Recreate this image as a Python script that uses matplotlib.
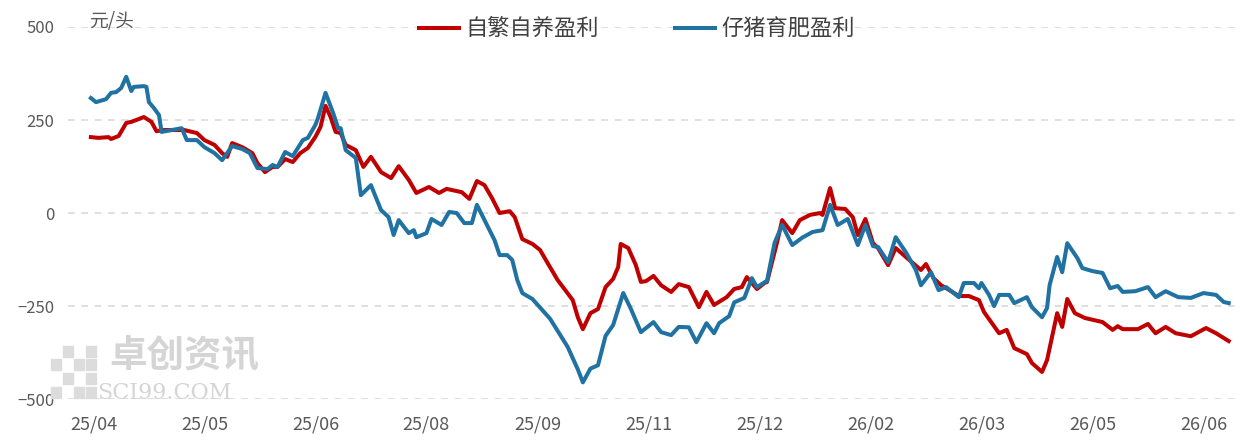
import matplotlib.pyplot as plt
from matplotlib.patches import Rectangle

plt.rcParams['font.family'] = ['Noto Sans CJK SC', 'DejaVu Sans']

# 横轴: 自 2025-04 起的天数
tick_days = [1, 45, 89, 133, 177, 221, 265, 309, 353, 397, 441]
tick_labels = ['25/04', '25/05', '25/06', '25/08', '25/09', '25/11',
               '25/12', '26/02', '26/03', '26/05', '26/06']

# 自繁自养盈利
self_days = [0, 3, 7, 8, 11, 14, 16, 18, 21, 24, 26, 29, 37, 42, 45, 49, 52, 54, 56, 60,
             64, 66, 69, 72, 74, 77, 80, 83, 86, 89, 91, 93, 95, 97, 99, 101, 105, 108, 111, 115,
             119, 122, 126, 129, 134, 138, 141, 145, 147, 150, 153, 156, 159, 162, 166, 168, 171, 175, 178, 181,
             185, 191, 193, 195, 198, 201, 204, 207, 209, 210, 213, 216, 218, 220, 223, 226, 230, 233, 237, 241,
             244, 247, 252, 255, 258, 260, 264, 267, 268, 272, 274, 278, 281, 285, 289, 290, 293, 295, 299, 302,
             304, 307, 310, 312, 316, 319, 323, 329, 331, 334, 337, 341, 344, 348, 352, 354, 360, 363, 366, 371,
             373, 377, 379, 383, 385, 387, 390, 394, 401, 405, 407, 409, 415, 419, 422, 426, 430, 436, 442, 446,
             451]
self_profit = [204, 202, 204, 199, 207, 242, 245, 250, 258, 245, 220, 223, 223, 215, 196, 183, 161, 151, 188, 177,
               161, 134, 110, 124, 124, 145, 137, 161, 175, 205, 231, 288, 258, 218, 215, 183, 169, 124, 151, 110,
               94, 126, 89, 54, 70, 54, 65, 59, 56, 38, 86, 75, 40, 0, 5, -11, -70, -83, -99, -134,
               -180, -234, -280, -312, -269, -258, -199, -177, -145, -83, -94, -140, -185, -183, -169, -194, -212, -191, -199, -253,
               -212, -247, -226, -204, -199, -172, -204, -188, -185, -78, -19, -54, -19, -5, 0, -5, 67, 13, 11, -11,
               -59, -16, -81, -94, -140, -94, -118, -153, -137, -175, -194, -210, -223, -223, -234, -266, -323, -314, -363, -379,
               -403, -427, -395, -269, -306, -231, -269, -282, -293, -314, -304, -312, -312, -298, -323, -306, -323, -331, -309, -323,
               -344]

# 仔猪育肥盈利
fat_days = [0, 2, 6, 8, 10, 12, 14, 16, 17, 21, 22, 23, 25, 27, 28, 32, 36, 38, 42, 45,
            49, 52, 56, 60, 63, 66, 70, 72, 74, 77, 80, 84, 86, 89, 90, 93, 96, 98, 99, 101,
            105, 107, 111, 115, 118, 120, 122, 126, 128, 129, 133, 135, 139, 142, 145, 148, 151, 153, 156, 160,
            162, 165, 167, 169, 171, 175, 182, 189, 193, 195, 198, 201, 204, 207, 211, 214, 218, 223, 226, 230,
            233, 237, 240, 244, 247, 249, 253, 255, 259, 262, 264, 268, 271, 274, 278, 282, 286, 290, 293, 296,
            300, 304, 307, 310, 312, 316, 319, 323, 327, 329, 333, 336, 339, 344, 346, 350, 352, 353, 356, 358,
            360, 364, 366, 371, 373, 377, 379, 380, 383, 385, 387, 391, 393, 397, 401, 404, 407, 409, 414, 419,
            422, 426, 431, 436, 441, 446, 449, 451]
fat_profit = [309, 298, 306, 323, 325, 336, 366, 328, 339, 341, 339, 298, 282, 263, 218, 223, 228, 196, 196, 177,
              161, 142, 180, 172, 161, 121, 118, 129, 124, 164, 153, 196, 202, 237, 255, 323, 269, 228, 228, 169,
              148, 48, 75, 8, -11, -59, -19, -54, -46, -65, -54, -16, -32, 3, 0, -27, -27, 22, -19, -73,
              -113, -113, -126, -180, -215, -231, -284, -360, -420, -455, -418, -409, -330, -301, -215, -257, -320, -293, -320, -328,
              -306, -307, -347, -296, -323, -296, -277, -240, -228, -175, -199, -182, -80, -32, -86, -66, -51, -46, 22, -32,
              -16, -86, -32, -89, -91, -132, -65, -105, -153, -194, -159, -207, -199, -226, -188, -188, -202, -188, -220, -250,
              -220, -220, -242, -226, -253, -280, -255, -194, -118, -159, -81, -121, -148, -156, -161, -202, -196, -212, -210, -199,
              -226, -210, -226, -228, -215, -220, -239, -242]

fig = plt.figure(figsize=(12.4, 4.42), dpi=100)
ax = fig.add_axes([0.055, 0.097, 0.942, 0.842])

ax.plot(self_days, self_profit, color='#C00000', lw=2.9, label='自繁自养盈利', zorder=3,
        solid_joinstyle='round')
ax.plot(fat_days, fat_profit, color='#1F72A2', lw=2.9, label='仔猪育肥盈利', zorder=3,
        solid_joinstyle='round')

ax.set_ylim(-500, 500)
ax.set_xlim(-9, 454)
ax.set_yticks([-500, -250, 0, 250, 500])
ax.set_xticks(tick_days)
ax.set_xticklabels(tick_labels)
ax.yaxis.grid(True, color='#D9D9D9', lw=1.2, linestyle=(0, (4, 4)))
ax.set_axisbelow(True)
for s in ax.spines.values():
    s.set_visible(False)
ax.tick_params(length=0, colors='#595959', labelsize=12)
ax.tick_params(axis='x', pad=12, labelsize=13)
ax.tick_params(axis='y', pad=10)

fig.text(0.072, 0.952, '元/头', fontsize=13.5, color='#595959', va='center')

leg = ax.legend(loc='center', bbox_to_anchor=(0.487, 0.995), ncol=2, frameon=False,
                fontsize=16, handlelength=1.8, columnspacing=3.4, handletextpad=0.3)
for t in leg.get_texts():
    t.set_color('#404040')

# 水印
fig.text(0.088, 0.198, '卓创资讯', fontsize=27, color='#D5D5D5', fontweight='bold', va='center')
fig.text(0.078, 0.11, 'SCI99.COM', fontsize=16, color='#D5D5D5', family='DejaVu Serif', va='center')
for i in range(4):
    for j in range(4):
        if (i + j) % 2 == 0 or i == 3:
            fig.patches.append(Rectangle((0.041 + i * 0.0095, 0.10 + j * 0.031), 0.008, 0.025,
                                         transform=fig.transFigure, color='#DCDCDC', zorder=0))

fig.savefig('out.png', dpi=100)
